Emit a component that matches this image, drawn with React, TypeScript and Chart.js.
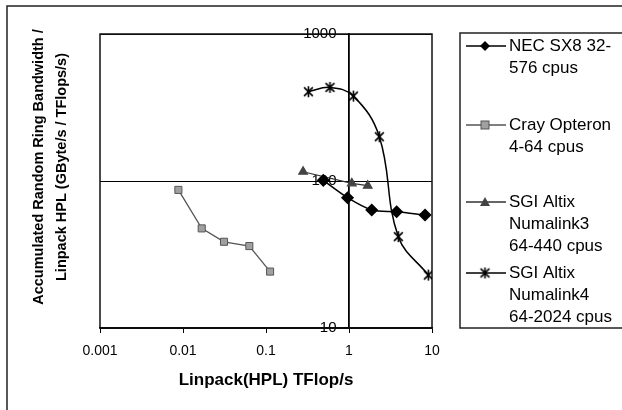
import React, { useEffect, useRef } from 'react';
import { Chart, registerables } from 'chart.js';

Chart.register(...registerables);

// ---- data ----
const necX = [0.49, 0.96, 1.88, 3.75, 8.24];
const necY = [101, 77, 63.5, 61.8, 58.7];
const crayX = [0.0088, 0.0168, 0.0312, 0.063, 0.112];
const crayY = [87, 47.6, 38.6, 36.1, 24.2];
const nl3X = [0.28, 1.08, 1.68];
const nl3Y = [115.6, 96.4, 93];
const nl4X = [0.324, 0.59, 1.13, 2.32, 3.93, 9.03];
const nl4Y = [405, 433, 378, 200, 41.8, 22.9];

const xTicks = [0.001, 0.01, 0.1, 1, 10];
const yTicks = [10, 100, 1000];

const legendLabels = [
  ['NEC SX8 32-', '576 cpus'],
  ['Cray Opteron', '4-64 cpus'],
  ['SGI Altix', 'Numalink3', '64-440 cpus'],
  ['SGI Altix', 'Numalink4', '64-2024 cpus'],
];
const xTitle = 'Linpack(HPL) TFlop/s';
const yTitle = ['Accumulated Random Ring Bandwidth /', 'Linpack HPL (GByte/s / TFlops/s)'];

const FONT = "'Liberation Sans', Arial, sans-serif";

const pts = (xs: number[], ys: number[]) => xs.map((x, i) => ({ x, y: ys[i] }));

function makeStar(size: number, color: string, lw: number) {
  const c = document.createElement('canvas');
  c.width = size;
  c.height = size;
  const g = c.getContext('2d')!;
  g.strokeStyle = color;
  g.lineWidth = lw;
  const m = size / 2;
  const r = size / 2 - 1;
  g.beginPath();
  g.moveTo(m - r * 0.8, m - r * 0.8);
  g.lineTo(m + r * 0.8, m + r * 0.8);
  g.moveTo(m + r * 0.8, m - r * 0.8);
  g.lineTo(m - r * 0.8, m + r * 0.8);
  g.moveTo(m, m - r);
  g.lineTo(m, m + r);
  g.stroke();
  return c;
}

function drawMarker(ctx: CanvasRenderingContext2D, kind: string, x: number, y: number, star: HTMLCanvasElement) {
  ctx.save();
  if (kind === 'diamond') {
    ctx.fillStyle = '#000';
    ctx.beginPath();
    ctx.moveTo(x, y - 5);
    ctx.lineTo(x + 5, y);
    ctx.lineTo(x, y + 5);
    ctx.lineTo(x - 5, y);
    ctx.closePath();
    ctx.fill();
  } else if (kind === 'square') {
    ctx.fillStyle = '#a0a0a0';
    ctx.strokeStyle = '#555';
    ctx.lineWidth = 1;
    ctx.fillRect(x - 4, y - 4, 8, 8);
    ctx.strokeRect(x - 4, y - 4, 8, 8);
  } else if (kind === 'triangle') {
    ctx.fillStyle = '#444';
    ctx.beginPath();
    ctx.moveTo(x, y - 5);
    ctx.lineTo(x + 5, y + 4);
    ctx.lineTo(x - 5, y + 4);
    ctx.closePath();
    ctx.fill();
  } else {
    ctx.drawImage(star, x - star.width / 2, y - star.height / 2);
  }
  ctx.restore();
}

export default function App() {
  const ref = useRef<HTMLCanvasElement | null>(null);

  useEffect(() => {
    document.body.style.margin = '0';
    const star = makeStar(13, '#000', 1.6);
    const markerKinds = ['diamond', 'square', 'triangle', 'star'];
    const lineColors = ['#000', '#555', '#333', '#000'];
    const legendY = [
      [46, 68],
      [125, 147],
      [202, 224, 246],
      [273, 295, 317],
    ];

    const decor = {
      id: 'decor',
      beforeDatasetsDraw(chart: any) {
        const { ctx, chartArea: a } = chart;
        ctx.save();
        ctx.strokeStyle = '#111';
        ctx.lineWidth = 1.5;
        ctx.strokeRect(a.left, a.top, a.right - a.left, a.bottom - a.top);
        ctx.restore();
      },
      afterDraw(chart: any) {
        const { ctx, chartArea: a } = chart;
        ctx.save();
        // outer frame (right and bottom edges fall outside the picture)
        ctx.strokeStyle = '#222';
        ctx.lineWidth = 1.5;
        ctx.strokeRect(7, 6, 800, 600);
        // axis titles
        ctx.fillStyle = '#000';
        ctx.textAlign = 'center';
        ctx.textBaseline = 'middle';
        ctx.font = `bold 17px ${FONT}`;
        ctx.fillText(xTitle, (a.left + a.right) / 2, 380);
        ctx.font = `bold 14.5px ${FONT}`;
        const yx = [39, 62];
        yTitle.forEach((t, i) => {
          ctx.save();
          ctx.translate(yx[i], 167);
          ctx.rotate(-Math.PI / 2);
          ctx.fillText(t, 0, 0);
          ctx.restore();
        });
        // legend (box runs off the right edge)
        ctx.strokeStyle = '#222';
        ctx.lineWidth = 1.5;
        ctx.strokeRect(460, 33, 400, 295);
        ctx.font = `17px ${FONT}`;
        ctx.textAlign = 'left';
        legendLabels.forEach((lines, i) => {
          const ys = legendY[i];
          ctx.strokeStyle = lineColors[i];
          ctx.lineWidth = 1.5;
          ctx.beginPath();
          ctx.moveTo(466, ys[0]);
          ctx.lineTo(506, ys[0]);
          ctx.stroke();
          drawMarker(ctx, markerKinds[i], 485, ys[0], star);
          ctx.fillStyle = '#000';
          lines.forEach((t, j) => ctx.fillText(t, 509, ys[j]));
        });
        ctx.restore();
      },
    };

    const chart = new Chart(ref.current!, {
      type: 'scatter',
      data: {
        datasets: [
          {
            label: legendLabels[0].join(' '),
            data: pts(necX, necY),
            showLine: true,
            borderColor: '#000',
            borderWidth: 1.5,
            tension: 0.3,
            pointStyle: 'rectRot',
            pointRadius: 5.5,
            pointBackgroundColor: '#000',
            pointBorderColor: '#000',
          },
          {
            label: legendLabels[1].join(' '),
            data: pts(crayX, crayY),
            showLine: true,
            borderColor: '#555',
            borderWidth: 1.3,
            tension: 0,
            pointStyle: 'rect',
            pointRadius: 5,
            pointBackgroundColor: '#a0a0a0',
            pointBorderColor: '#555',
            pointBorderWidth: 1,
          },
          {
            label: legendLabels[2].join(' '),
            data: pts(nl3X, nl3Y),
            showLine: true,
            borderColor: '#333',
            borderWidth: 1.2,
            tension: 0,
            pointStyle: 'triangle',
            pointRadius: 5,
            pointBackgroundColor: '#444',
            pointBorderColor: '#444',
          },
          {
            label: legendLabels[3].join(' '),
            data: pts(nl4X, nl4Y),
            showLine: true,
            borderColor: '#000',
            borderWidth: 1.5,
            tension: 0.4,
            pointStyle: star as any,
            pointRadius: 6,
          },
        ],
      },
      options: {
        animation: false,
        responsive: false,
        layout: { padding: { left: 100, right: 190, top: 34, bottom: 0 } },
        plugins: { legend: { display: false }, tooltip: { enabled: false } },
        scales: {
          x: {
            type: 'logarithmic',
            position: 'bottom',
            min: 0.001,
            max: 10,
            afterBuildTicks: (s: any) => {
              s.ticks = xTicks.map((v) => ({ value: v }));
            },
            afterFit: (s: any) => {
              s.height = 82;
            },
            grid: { drawOnChartArea: false, drawTicks: true, tickLength: 5, color: '#000', lineWidth: 1 },
            border: { display: true, color: '#000', width: 1.5 },
            ticks: {
              color: '#000',
              font: { family: FONT, size: 14 },
              padding: 10,
              maxRotation: 0,
              autoSkip: false,
              callback: (v: any) => String(v),
            },
          },
          y: {
            type: 'logarithmic',
            position: { x: 1 } as any,
            min: 10,
            max: 1000,
            afterBuildTicks: (s: any) => {
              s.ticks = yTicks.map((v) => ({ value: v }));
            },
            grid: { drawTicks: false, color: '#000', lineWidth: 1 },
            border: { display: true, color: '#000', width: 1.8 },
            ticks: {
              color: '#000',
              font: { family: FONT, size: 15 },
              autoSkip: false,
              callback: (v: any) => String(v) + '   ',
            },
          },
        },
      },
      plugins: [decor],
    } as any);

    return () => chart.destroy();
  }, []);

  return (
    <div style={{ width: 622, height: 410, background: '#fff' }}>
      <canvas ref={ref} width={622} height={410} style={{ display: 'block' }} />
    </div>
  );
}
